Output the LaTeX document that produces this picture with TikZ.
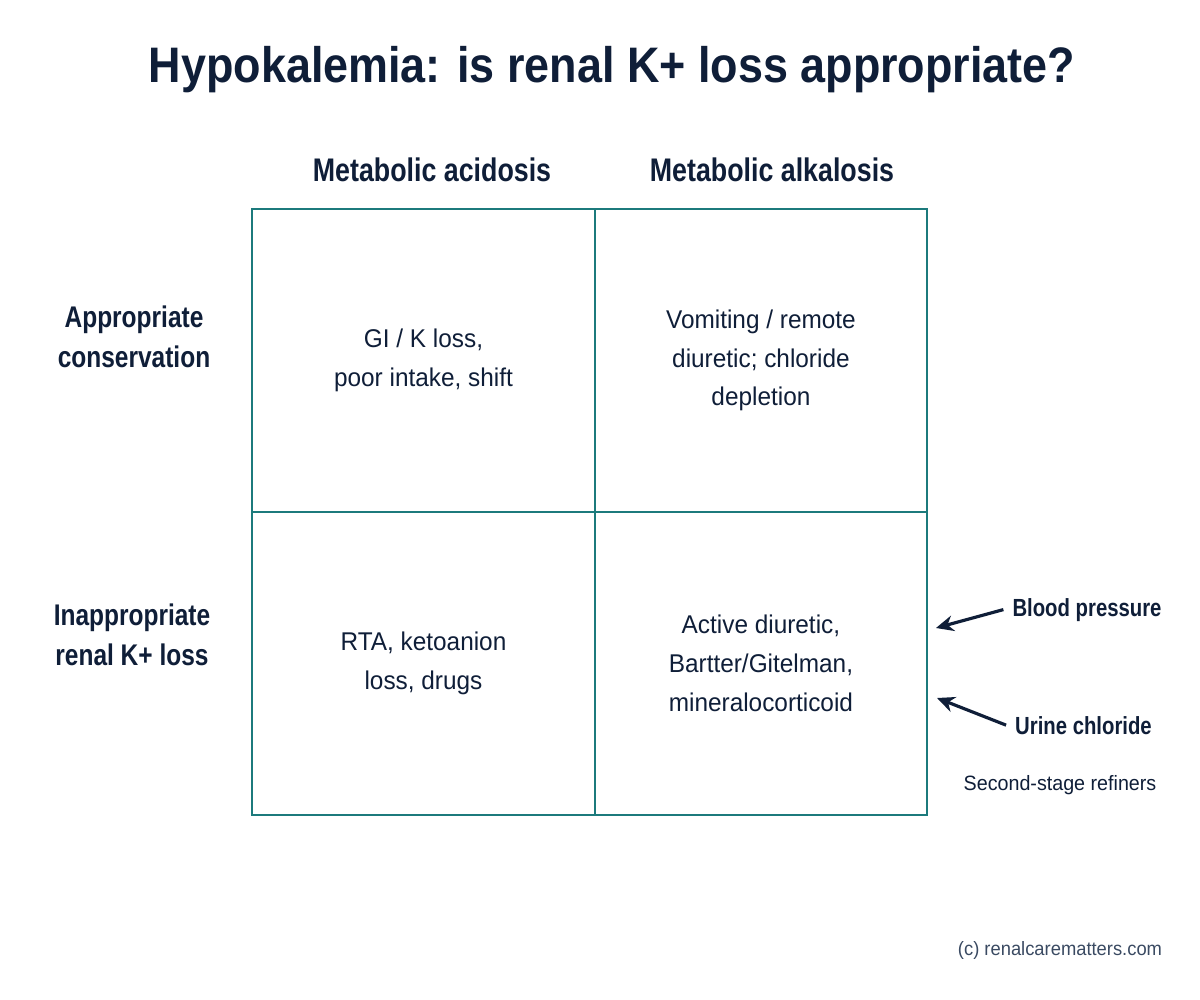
\documentclass[tikz,border=0pt]{standalone}
\usepackage{fontspec}
\setmainfont{Liberation Sans}[FakeStretch=0.95]
\newfontfamily\titlefont{Liberation Sans}[FakeStretch=0.9]
\newfontfamily\headfont{Liberation Sans}[FakeStretch=0.82]
\usetikzlibrary{positioning, arrows.meta}
\definecolor{cGRID}{HTML}{1C7A7C}
\definecolor{cINK}{HTML}{0F1E38}
\definecolor{cNOTE}{HTML}{3A4A62}
\tikzset{
  cellbox/.style={
    draw=cGRID, line width=1.4pt,
    minimum width=#1,
    minimum height=6.06cm,
    inner sep=0pt, outer sep=0pt,
    align=center,
    text=cINK,
    font=\fontsize{14.6}{22}\selectfont
  },
  colhead/.style={
    anchor=base,
    text=cINK,
    font=\headfont\bfseries\fontsize{18.6}{22}\selectfont
  },
  rowlabel/.style={
    align=center,
    text=cINK,
    font=\headfont\bfseries\fontsize{17}{22.7}\selectfont
  },
  refiner/.style={
    anchor=base,
    inner sep=5pt,
    text=cINK,
    font=\headfont\bfseries\fontsize{14.1}{17}\selectfont
  },
  pointer/.style={
    -{Stealth[length=10pt,width=9pt]},
    line width=1.8pt,
    draw=cINK
  },
  notetext/.style={
    anchor=base,
    text=#1,
    font=\fontsize{11.8}{14}\selectfont
  }
}

\begin{document}
\begin{tikzpicture}[x=0.02cm, y=-0.02cm]
  \useasboundingbox[fill=white] (0,0) rectangle (1200,1000);

  % title
  \node[anchor=base, text=cINK, font=\titlefont\bfseries\fontsize{28.4}{34}\selectfont]
    (title) at (612,83) {Hypokalemia: is renal K+ loss appropriate?};

  % 2x2 grid
  \node[cellbox=6.86cm] (consAcid) at (423.5,360.5) {GI / K loss,\\poor intake, shift};
  \node[cellbox=6.64cm, right=0pt of consAcid] (consAlk) {Vomiting / remote\\diuretic; chloride\\depletion};
  \node[cellbox=6.86cm, below=0pt of consAcid] (lossAcid) {RTA, ketoanion\\loss, drugs};
  \node[cellbox=6.64cm, below=0pt of consAlk] (lossAlk) {Active diuretic,\\Bartter/Gitelman,\\mineralocorticoid};

  % column and row headings
  \node[colhead] (hAcid) at (432,182) {Metabolic acidosis};
  \node[colhead] (hAlk) at (772,182) {Metabolic alkalosis};
  \node[rowlabel] (rCons) at (134,337) {Appropriate\\conservation};
  \node[rowlabel] (rLoss) at (132,635) {Inappropriate\\renal K+ loss};

  % second-stage refiners
  \node[refiner] (bp) at (1087,616) {Blood pressure};
  \node[refiner] (ucl) at (1083.5,734) {Urine chloride};
  \node[notetext=cINK] (second) at (1060,790) {Second-stage refiners};
  \coordinate (bpTip) at (936,628);
  \coordinate (uclTip) at (937,698);
  \draw[pointer] (bp.west) -- (bpTip);
  \draw[pointer] (ucl.west) -- (uclTip);

  \node[notetext=cNOTE, font=\fontsize{11}{13}\selectfont] (credit) at (1060,955) {(c) renalcarematters.com};
\end{tikzpicture}
\end{document}
